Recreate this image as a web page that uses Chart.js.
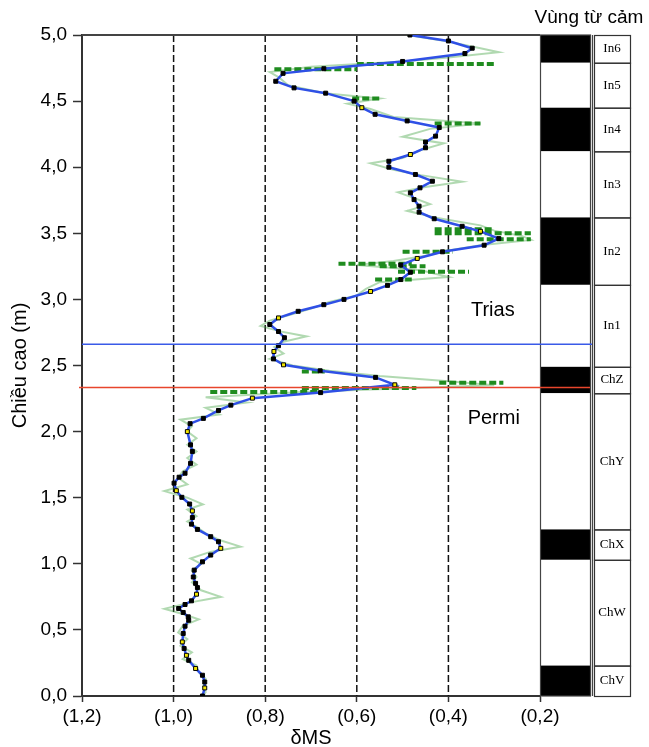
<!DOCTYPE html>
<html>
<head>
<meta charset="utf-8">
<script src="https://cdn.jsdelivr.net/npm/chart.js@4.4.1/dist/chart.umd.min.js"></script>
<style>
  html, body { margin: 0; padding: 0; background: #fff; }
</style>
</head>
<body>
<canvas id="myChart" width="649" height="747"></canvas>
<script>
const FONT = "'Liberation Sans', Arial, sans-serif"

// smoothed profile (blue line, black markers), height in m -> δMS
const heights = [
  5.00, 4.955, 4.90, 4.86, 4.80, 4.745, 4.71, 4.65, 4.60, 4.56,
  4.50, 4.45, 4.40, 4.35, 4.30, 4.235, 4.19, 4.147, 4.096, 4.045,
  4.00, 3.945, 3.894, 3.844, 3.806, 3.755, 3.705, 3.66, 3.61, 3.553,
  3.515, 3.46, 3.41, 3.36, 3.31, 3.26, 3.205, 3.15, 3.106, 3.06,
  3.00, 2.96, 2.91, 2.86, 2.81, 2.757, 2.71, 2.65, 2.606, 2.55,
  2.505, 2.46, 2.41, 2.354, 2.295, 2.253, 2.20, 2.16, 2.10, 2.06,
  2.00, 1.90, 1.85, 1.76, 1.685, 1.655, 1.61, 1.553, 1.503, 1.452,
  1.40, 1.35, 1.30, 1.26, 1.205, 1.167, 1.117, 1.066, 1.015, 0.952,
  0.90, 0.852, 0.82, 0.77, 0.72, 0.692, 0.662, 0.632, 0.599, 0.573,
  0.528, 0.473, 0.409, 0.359, 0.308, 0.27, 0.208, 0.157, 0.106, 0.061,
  0.0
]
const values = [
  0.484, 0.40, 0.348, 0.364, 0.50, 0.672, 0.761, 0.777, 0.737, 0.668,
  0.606, 0.589, 0.56, 0.49, 0.42, 0.428, 0.45, 0.45, 0.483, 0.53,
  0.53, 0.472, 0.435, 0.462, 0.483, 0.475, 0.464, 0.464, 0.431, 0.37,
  0.33, 0.29, 0.322, 0.413, 0.468, 0.504, 0.483, 0.504, 0.533, 0.57,
  0.628, 0.672, 0.728, 0.771, 0.79, 0.771, 0.758, 0.771, 0.781, 0.782,
  0.76, 0.68, 0.559, 0.517, 0.679, 0.828, 0.875, 0.902, 0.935, 0.964,
  0.97, 0.963, 0.959, 0.963, 0.975, 0.988, 0.999, 0.994, 0.982, 0.965,
  0.959, 0.959, 0.961, 0.948, 0.919, 0.902, 0.897, 0.919, 0.937, 0.955,
  0.957, 0.952, 0.948, 0.95, 0.961, 0.975, 0.989, 0.979, 0.968, 0.967,
  0.975, 0.979, 0.981, 0.977, 0.972, 0.967, 0.952, 0.937, 0.932, 0.932,
  0.937
]
// markers drawn with a yellow centre
const yellowIdx = [11, 18, 30, 34, 39, 43, 48, 50, 53, 55, 60, 67, 70, 76, 83, 92, 94, 96, 99]

// raw measurements (light green zigzag)
const rawH = [
  5.0, 4.95, 4.90, 4.87, 4.83, 4.80, 4.76, 4.72, 4.68, 4.62,
  4.56, 4.52, 4.48, 4.44, 4.38, 4.33, 4.29, 4.23, 4.18, 4.13,
  4.07, 4.03, 3.98, 3.94, 3.89, 3.85, 3.81, 3.76, 3.72, 3.67,
  3.62, 3.56, 3.52, 3.48, 3.45, 3.41, 3.37, 3.33, 3.29, 3.26,
  3.22, 3.17, 3.13, 3.08, 3.03, 2.98, 2.93, 2.89, 2.84, 2.80,
  2.76, 2.72, 2.68, 2.64, 2.59, 2.55, 2.50, 2.46, 2.42, 2.38,
  2.35, 2.33, 2.30, 2.26, 2.22, 2.18, 2.13, 2.09, 2.04, 2.00,
  1.95, 1.90, 1.85, 1.80, 1.75, 1.70, 1.65, 1.60, 1.55, 1.50,
  1.45, 1.41, 1.36, 1.32, 1.28, 1.23, 1.18, 1.13, 1.09, 1.04,
  1.00, 0.95, 0.90, 0.86, 0.80, 0.75, 0.71, 0.66, 0.62, 0.58,
  0.53, 0.48, 0.43, 0.38, 0.33, 0.28, 0.23, 0.18, 0.13, 0.08,
  0.03, 0.0
]
const rawV = [
  0.49, 0.40, 0.33, 0.29, 0.40, 0.50, 0.70, 0.79, 0.77, 0.75,
  0.67, 0.55, 0.62, 0.57, 0.52, 0.33, 0.44, 0.50, 0.41, 0.46,
  0.50, 0.57, 0.52, 0.46, 0.37, 0.45, 0.51, 0.47, 0.44, 0.49,
  0.43, 0.33, 0.30, 0.24, 0.22, 0.33, 0.40, 0.45, 0.52, 0.60,
  0.46, 0.40, 0.55, 0.58, 0.60, 0.66, 0.70, 0.74, 0.79, 0.81,
  0.77, 0.71, 0.76, 0.78, 0.76, 0.79, 0.74, 0.66, 0.55, 0.40,
  0.30, 0.48, 0.72, 0.93, 0.84, 0.93, 0.90, 0.985, 0.96, 0.97,
  0.95, 0.97, 0.95, 0.97, 0.95, 0.98, 0.99, 0.97, 1.02, 0.97,
  0.936, 0.97, 0.95, 0.97, 0.95, 0.93, 0.90, 0.854, 0.92, 0.963,
  0.94, 0.96, 0.95, 0.96, 0.94, 0.897, 0.96, 1.02, 0.98, 0.945,
  0.98, 0.99, 0.97, 0.985, 0.96, 0.98, 0.95, 0.945, 0.93, 0.935,
  0.93, 0.935
]

// dark green dashed scatter bands: height, from, to
const bandH    = [4.74, 4.78, 4.52, 4.33, 3.53, 3.50, 3.455, 3.36, 3.27, 3.25, 3.21, 3.15, 2.455, 2.37, 2.33, 2.30]
const bandFrom = [0.78, 0.60, 0.61, 0.43, 0.43, 0.43, 0.36, 0.50, 0.64, 0.55, 0.51, 0.56, 0.72, 0.42, 0.72, 0.92]
const bandTo   = [0.60, 0.30, 0.55, 0.33, 0.30, 0.22, 0.22, 0.39, 0.48, 0.45, 0.355, 0.48, 0.67, 0.28, 0.47, 0.68]

const xTicks = [1.2, 1.0, 0.8, 0.6, 0.4, 0.2]
const dashedAt = [1.0, 0.8, 0.6, 0.4]

// magnetic polarity zones (top of each zone, m)
const zoneNames = ['In6', 'In5', 'In4', 'In3', 'In2', 'In1', 'ChZ', 'ChY', 'ChX', 'ChW', 'ChV']
const zoneTop   = [5.0, 4.79, 4.45, 4.12, 3.62, 3.11, 2.49, 2.29, 1.26, 1.03, 0.23]
const zoneBlack = [true, false, true, false, true, false, true, false, true, false, true]

// Trias / Permi boundary lines
const triasLine = 2.66
const permiLine = 2.334

const fmt = v => v.toFixed(1).replace('.', ',')

const mainPts = heights.map((h, i) => ({x: values[i], y: h}))
const rawPts = rawH.map((h, i) => ({x: rawV[i], y: h}))
const bandPts = []
bandH.forEach((h, i) => {
    bandPts.push({x: bandFrom[i], y: h}, {x: bandTo[i], y: h}, {x: null, y: null})
})

const profileDecor = {
    id: 'profileDecor',
    beforeDatasetsDraw(chart) {
        const {ctx, chartArea: a, scales: {x}} = chart
        ctx.save()
        ctx.strokeStyle = '#111'
        ctx.lineWidth = 1.5
        ctx.setLineDash([7, 3])
        dashedAt.forEach(v => {
            const px = x.getPixelForValue(v)
            ctx.beginPath()
            ctx.moveTo(px, a.top)
            ctx.lineTo(px, a.bottom)
            ctx.stroke()
        })
        ctx.setLineDash([])
        ctx.strokeStyle = '#444'
        ctx.lineWidth = 2
        ctx.beginPath()
        ctx.moveTo(a.left, a.top)
        ctx.lineTo(a.right, a.top)
        ctx.stroke()
        ctx.restore()
    },
    afterDatasetsDraw(chart) {
        const {ctx, chartArea: a, scales: {x, y}} = chart
        ctx.save()
        // polarity column
        const colL = a.right, colR = a.right + 50
        const labL = colR + 4, labR = colR + 40
        zoneNames.forEach((name, i) => {
            const t = y.getPixelForValue(zoneTop[i])
            const b = y.getPixelForValue(i + 1 < zoneTop.length ? zoneTop[i + 1] : 0)
            ctx.fillStyle = zoneBlack[i] ? '#000' : '#fff'
            ctx.fillRect(colL, t, colR - colL, b - t)
            ctx.strokeStyle = '#333'
            ctx.lineWidth = 1.2
            ctx.strokeRect(labL + 0.5, t + 0.5, labR - labL, b - t)
            ctx.fillStyle = '#000'
            ctx.font = "13px 'Liberation Serif', serif"
            ctx.textAlign = 'center'
            ctx.textBaseline = 'middle'
            ctx.fillText(name, (labL + labR) / 2, (t + b) / 2)
        })
        ctx.strokeStyle = '#444'
        ctx.lineWidth = 1.2
        ctx.strokeRect(colL + 0.5, a.top, colR - colL, a.bottom - a.top)
        ctx.beginPath()
        ctx.moveTo(colR + 2.5, a.top)
        ctx.lineTo(colR + 2.5, a.bottom)
        ctx.stroke()

        // boundary lines
        ctx.lineWidth = 1.5
        ctx.strokeStyle = '#3a5ae8'
        let py = y.getPixelForValue(triasLine)
        ctx.beginPath(); ctx.moveTo(a.left, py); ctx.lineTo(colR + 2, py); ctx.stroke()
        ctx.strokeStyle = '#e8462c'
        py = y.getPixelForValue(permiLine)
        ctx.beginPath(); ctx.moveTo(a.left - 3, py); ctx.lineTo(colR, py); ctx.stroke()

        // labels
        ctx.fillStyle = '#000'
        ctx.font = '20px ' + FONT
        ctx.textAlign = 'center'
        ctx.textBaseline = 'middle'
        ctx.fillText('Trias', x.getPixelForValue(0.303), y.getPixelForValue(2.914))
        ctx.fillText('Permi', x.getPixelForValue(0.301), y.getPixelForValue(2.096))
        ctx.font = '19px ' + FONT
        ctx.fillText('Vùng từ cảm', (colL + labR) / 2 + 4, 18)
        ctx.restore()
    }
}

const myChart = new Chart(document.getElementById('myChart'), {
    type: 'scatter',
    data: {
        datasets: [{
            data: mainPts,
            showLine: true,
            borderColor: '#2f50e6',
            borderWidth: 2.5,
            pointStyle: 'rect',
            pointRadius: 2.8,
            pointBorderColor: '#000',
            pointBorderWidth: 1,
            pointBackgroundColor: c => yellowIdx.includes(c.dataIndex) ? '#f2e600' : '#000'
        }, {
            data: bandPts,
            showLine: true,
            borderColor: '#1f8c1f',
            borderWidth: 4,
            borderDash: [7, 3],
            pointRadius: 0,
            spanGaps: false
        }, {
            data: rawPts,
            showLine: true,
            borderColor: 'rgba(60, 160, 60, 0.4)',
            borderWidth: 2,
            pointRadius: 0
        }]
    },
    options: {
        responsive: false,
        animation: false,
        layout: {padding: {top: 35, right: 109, bottom: 0, left: 0}},
        plugins: {legend: {display: false}, tooltip: {enabled: false}},
        scales: {
            x: {
                type: 'linear',
                min: 0.2,
                max: 1.2,
                reverse: true,
                afterBuildTicks: s => { s.ticks = xTicks.map(v => ({value: v})) },
                ticks: {callback: v => '(' + fmt(v) + ')', color: '#000', font: {family: FONT, size: 19}, padding: 3, maxRotation: 0, autoSkip: false},
                grid: {drawOnChartArea: false, tickLength: 6, color: '#333', tickWidth: 1.5},
                border: {color: '#333', width: 2},
                title: {display: true, text: 'δMS', color: '#000', font: {family: FONT, size: 20}, padding: {top: 0, bottom: -3}},
                afterFit: s => { s.height = 51 }
            },
            y: {
                type: 'linear',
                min: 0,
                max: 5,
                ticks: {stepSize: 0.5, callback: v => fmt(v), color: '#000', font: {family: FONT, size: 19}, padding: 6},
                grid: {drawOnChartArea: false, tickLength: 9, color: '#333', tickWidth: 1.5},
                border: {color: '#333', width: 2},
                title: {display: true, text: 'Chiều cao (m)', color: '#000', font: {family: FONT, size: 20}, padding: {top: 8, bottom: 0}},
                afterFit: s => { s.width = 82 }
            }
        }
    },
    plugins: [profileDecor]
})
</script>
</body>
</html>
